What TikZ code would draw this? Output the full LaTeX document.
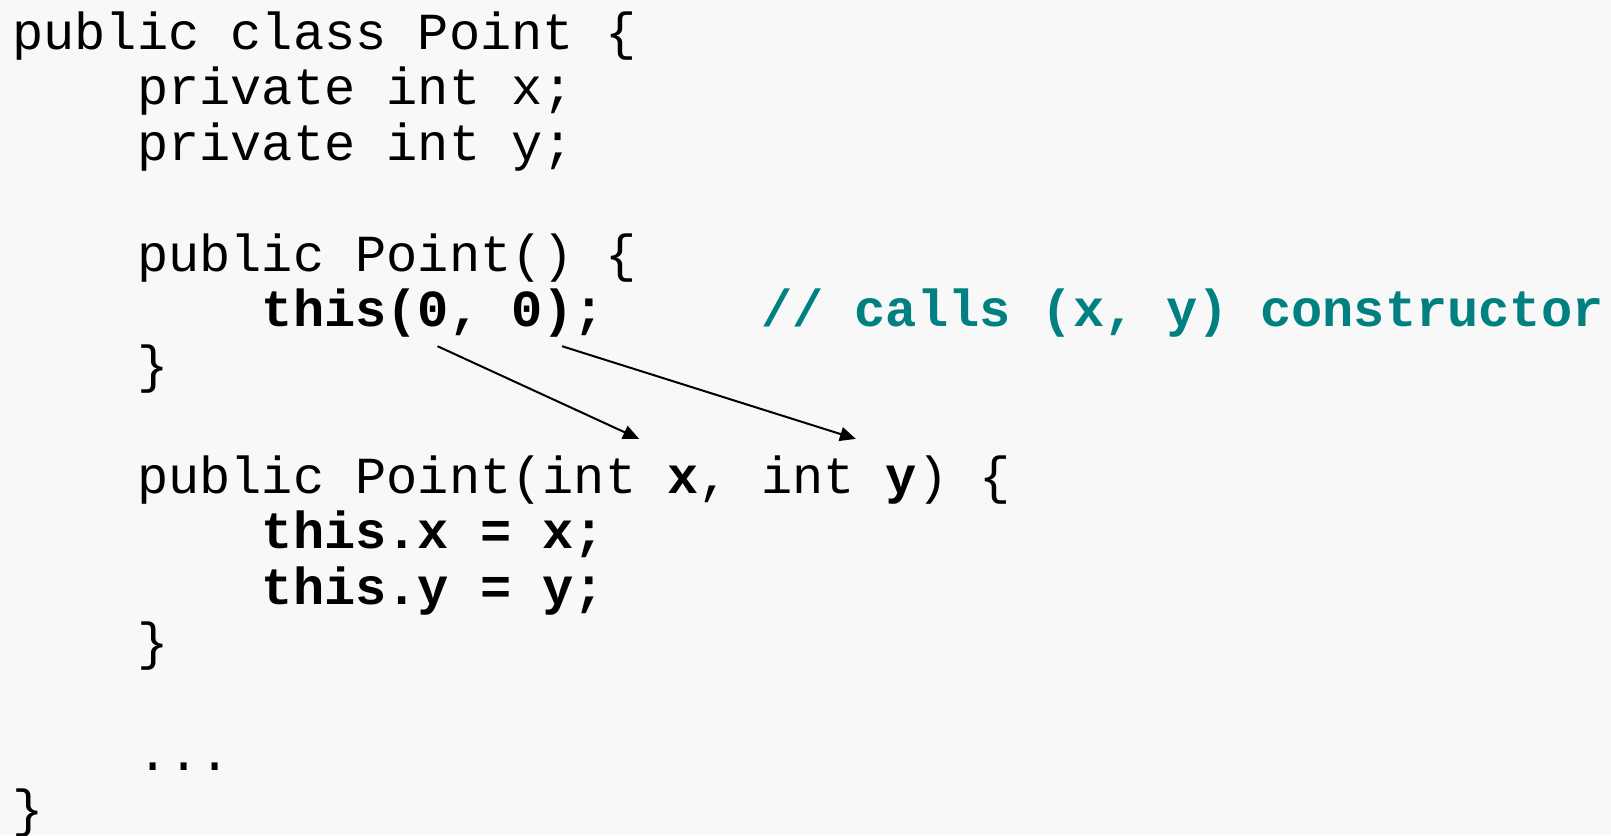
\documentclass[tikz,border=0pt]{standalone}
\usepackage{fontspec}
\setmonofont{Liberation Mono}
\usepackage{tikz}
\usetikzlibrary{arrows.meta, calc}
\definecolor{commentteal}{RGB}{0,128,128}
\definecolor{slidebg}{RGB}{248,248,248}

\begin{document}
\begin{tikzpicture}[
    x=15.6pt, y=-27.75pt,
    code/.style={anchor=base west, inner sep=0pt, outer sep=0pt, font=\fontsize{26}{27.75}\selectfont\ttfamily},
    bcode/.style={code, font=\fontsize{26}{27.75}\selectfont\ttfamily\bfseries},
    comment/.style={bcode, text=commentteal},
    arrow/.style={line width=1pt, -{Triangle[length=8pt, width=7pt]}}
]

% Background
\fill [slidebg] (-0.394,-0.888) rectangle (51.24,14.157);
\useasboundingbox (-0.394,-0.888) rectangle (51.24,14.157);

% Nodes
\node (classhead) [code] at (0,0) {public class Point \{};
\node (fieldx) [code] at (4,1) {private int x;};
\node (fieldy) [code] at (4,2) {private int y;};

\node (ctorone) [code] at (4,4) {public Point() \{};
\node (callthis) [bcode] at (8,5) {this(0, 0);};
\node (callnote) [comment] at (24,5) {// calls (x, y) constructor};
\node (closeone) [code] at (4,6) {\}};

\node (ctortwo) [code] at (4,8) {public Point(int };
\node (paramx) [bcode] at (21,8) {x};
\node (sepxy) [code] at (22,8) {, int };
\node (paramy) [bcode] at (28,8) {y};
\node (openbrace) [code] at (29,8) {) \{};
\node (assignx) [bcode] at (8,9) {this.x = x;};
\node (assigny) [bcode] at (8,10) {this.y = y;};
\node (closetwo) [code] at (4,11) {\}};

\node (dots) [code] at (4,13) {...};
\node (classend) [code] at (0,14) {\}};

% Connections
\coordinate (fromzero) at ($(callthis.base west)+(5.63,0.35)$);
\coordinate (fromclose) at ($(callthis.base west)+(9.62,0.35)$);
\draw [arrow] (fromzero) -- ($(paramx.base west)+(-0.91,-0.98)$);
\draw [arrow] (fromclose) -- ($(paramy.base west)+(-0.96,-0.98)$);

\end{tikzpicture}
\end{document}
